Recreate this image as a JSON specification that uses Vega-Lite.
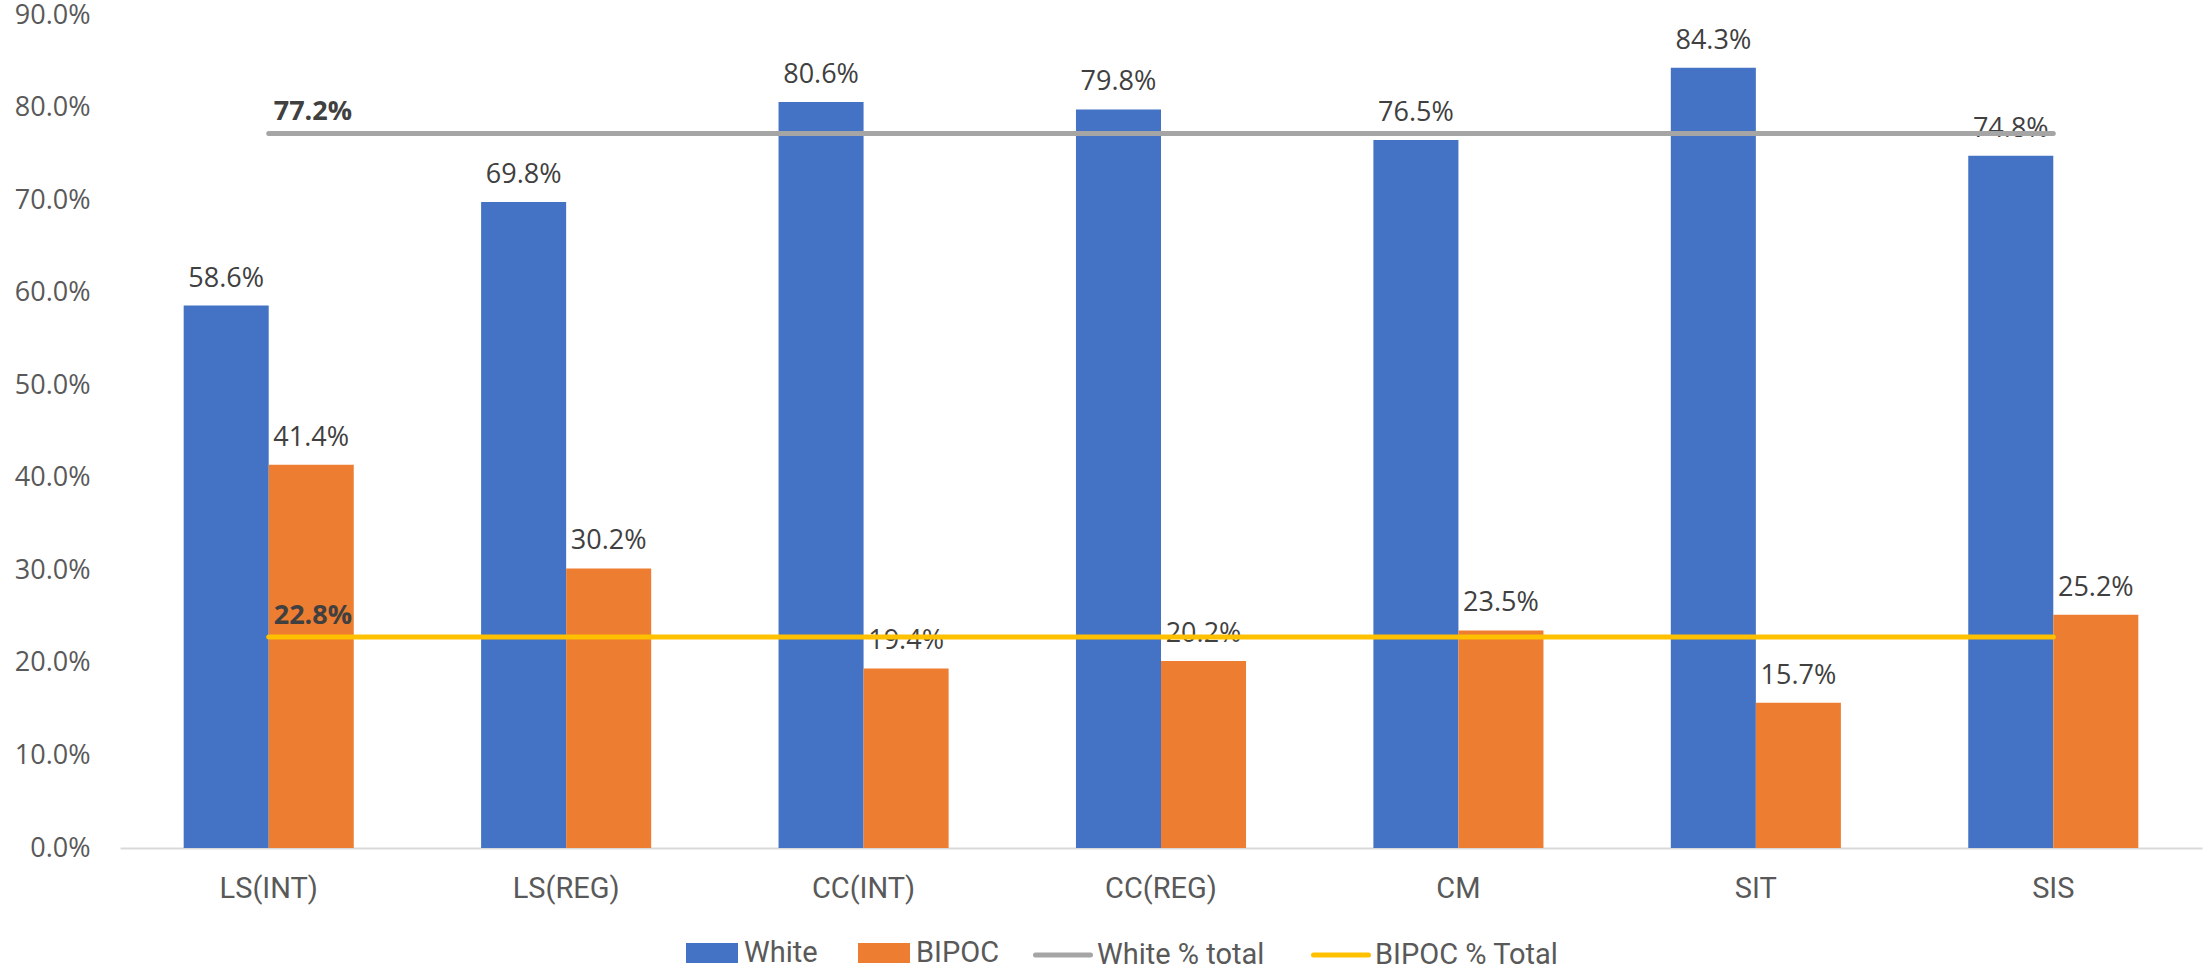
{
  "$schema": "https://vega.github.io/schema/vega-lite/v6.json",
  "autosize": {"type": "none"},
  "width": 2082,
  "height": 833,
  "padding": {"left": 120, "top": 15, "right": 2, "bottom": 124},
  "background": "#ffffff",
  "datasets": {
    "groups": [
      {"category": "LS(INT)", "group": "White", "value": 0.586},
      {"category": "LS(INT)", "group": "BIPOC", "value": 0.414},
      {"category": "LS(REG)", "group": "White", "value": 0.698},
      {"category": "LS(REG)", "group": "BIPOC", "value": 0.302},
      {"category": "CC(INT)", "group": "White", "value": 0.806},
      {"category": "CC(INT)", "group": "BIPOC", "value": 0.194},
      {"category": "CC(REG)", "group": "White", "value": 0.798},
      {"category": "CC(REG)", "group": "BIPOC", "value": 0.202},
      {"category": "CM", "group": "White", "value": 0.765},
      {"category": "CM", "group": "BIPOC", "value": 0.235},
      {"category": "SIT", "group": "White", "value": 0.843},
      {"category": "SIT", "group": "BIPOC", "value": 0.157},
      {"category": "SIS", "group": "White", "value": 0.748},
      {"category": "SIS", "group": "BIPOC", "value": 0.252}
    ],
    "totals": [
      {"category": "LS(INT)", "series": "White % total", "value": 0.772},
      {"category": "LS(REG)", "series": "White % total", "value": 0.772},
      {"category": "CC(INT)", "series": "White % total", "value": 0.772},
      {"category": "CC(REG)", "series": "White % total", "value": 0.772},
      {"category": "CM", "series": "White % total", "value": 0.772},
      {"category": "SIT", "series": "White % total", "value": 0.772},
      {"category": "SIS", "series": "White % total", "value": 0.772},
      {"category": "LS(INT)", "series": "BIPOC % Total", "value": 0.228},
      {"category": "LS(REG)", "series": "BIPOC % Total", "value": 0.228},
      {"category": "CC(INT)", "series": "BIPOC % Total", "value": 0.228},
      {"category": "CC(REG)", "series": "BIPOC % Total", "value": 0.228},
      {"category": "CM", "series": "BIPOC % Total", "value": 0.228},
      {"category": "SIT", "series": "BIPOC % Total", "value": 0.228},
      {"category": "SIS", "series": "BIPOC % Total", "value": 0.228}
    ]
  },
  "encoding": {
    "x": {
      "field": "category",
      "type": "nominal",
      "scale": {
        "domain": ["LS(INT)", "LS(REG)", "CC(INT)", "CC(REG)", "CM", "SIT", "SIS"],
        "paddingInner": 0.4282,
        "paddingOuter": 0.2141
      },
      "axis": {
        "title": null,
        "domainColor": "#D9D9D9",
        "domainWidth": 2,
        "ticks": false,
        "labelAngle": 0,
        "labelFont": "Roboto",
        "labelFontSize": 29,
        "labelColor": "#595959",
        "labelPadding": 26
      }
    },
    "y": {
      "field": "value",
      "type": "quantitative",
      "scale": {"domain": [0, 0.9], "nice": false},
      "axis": {
        "title": null,
        "domain": false,
        "ticks": false,
        "grid": false,
        "values": [0, 0.1, 0.2, 0.3, 0.4, 0.5, 0.6, 0.7, 0.8, 0.9],
        "format": ".1%",
        "labelFont": "Open Sans",
        "labelFontSize": 27,
        "labelColor": "#595959",
        "labelPadding": 30
      }
    }
  },
  "layer": [
    {
      "data": {"name": "groups"},
      "mark": {"type": "bar"},
      "encoding": {
        "xOffset": {"field": "group", "type": "nominal", "scale": {"domain": ["White", "BIPOC"]}},
        "fill": {
          "field": "group",
          "type": "nominal",
          "scale": {"domain": ["White", "BIPOC"], "range": ["#4472C4", "#ED7D31"]},
          "legend": {
            "title": null,
            "orient": "none",
            "legendX": 566,
            "legendY": 912,
            "direction": "horizontal",
            "symbolType": "M-1,-0.385H1V0.385H-1Z",
            "symbolSize": 2704,
            "symbolStrokeWidth": 0,
            "labelFont": "Roboto",
            "labelFontSize": 29,
            "labelColor": "#595959",
            "labelLimit": 400,
            "labelOffset": 6,
            "columnPadding": 40
          }
        }
      }
    },
    {
      "data": {"name": "groups"},
      "mark": {"type": "text", "baseline": "alphabetic", "dy": -19, "font": "Open Sans", "fontSize": 27, "color": "#404040"},
      "encoding": {
        "xOffset": {"field": "group", "type": "nominal", "scale": {"domain": ["White", "BIPOC"]}},
        "text": {"field": "value", "type": "quantitative", "format": ".1%"}
      }
    },
    {
      "data": {"name": "totals"},
      "mark": {"type": "line", "strokeWidth": 5, "strokeCap": "round"},
      "encoding": {
        "stroke": {
          "field": "series",
          "type": "nominal",
          "scale": {"domain": ["White % total", "BIPOC % Total"], "range": ["#A5A5A5", "#FFC000"]},
          "legend": {
            "title": null,
            "orient": "none",
            "legendX": 913,
            "legendY": 910,
            "direction": "horizontal",
            "symbolType": "stroke",
            "symbolSize": 3025,
            "symbolStrokeWidth": 5,
            "labelFont": "Roboto",
            "labelFontSize": 29,
            "labelColor": "#595959",
            "labelLimit": 400,
            "labelOffset": 4,
            "columnPadding": 38,
            "encode": {"symbols": {"update": {"strokeCap": {"value": "round"}}}}
          }
        }
      }
    },
    {
      "data": {"name": "totals"},
      "transform": [{"filter": "datum.category === 'LS(INT)'"}],
      "mark": {"type": "text", "align": "left", "baseline": "alphabetic", "dx": 5, "dy": -13, "font": "Open Sans", "fontSize": 27, "fontWeight": "bold", "color": "#404040"},
      "encoding": {
        "text": {"field": "value", "type": "quantitative", "format": ".1%"}
      }
    }
  ],
  "config": {
    "view": {"stroke": null}
  }
}
